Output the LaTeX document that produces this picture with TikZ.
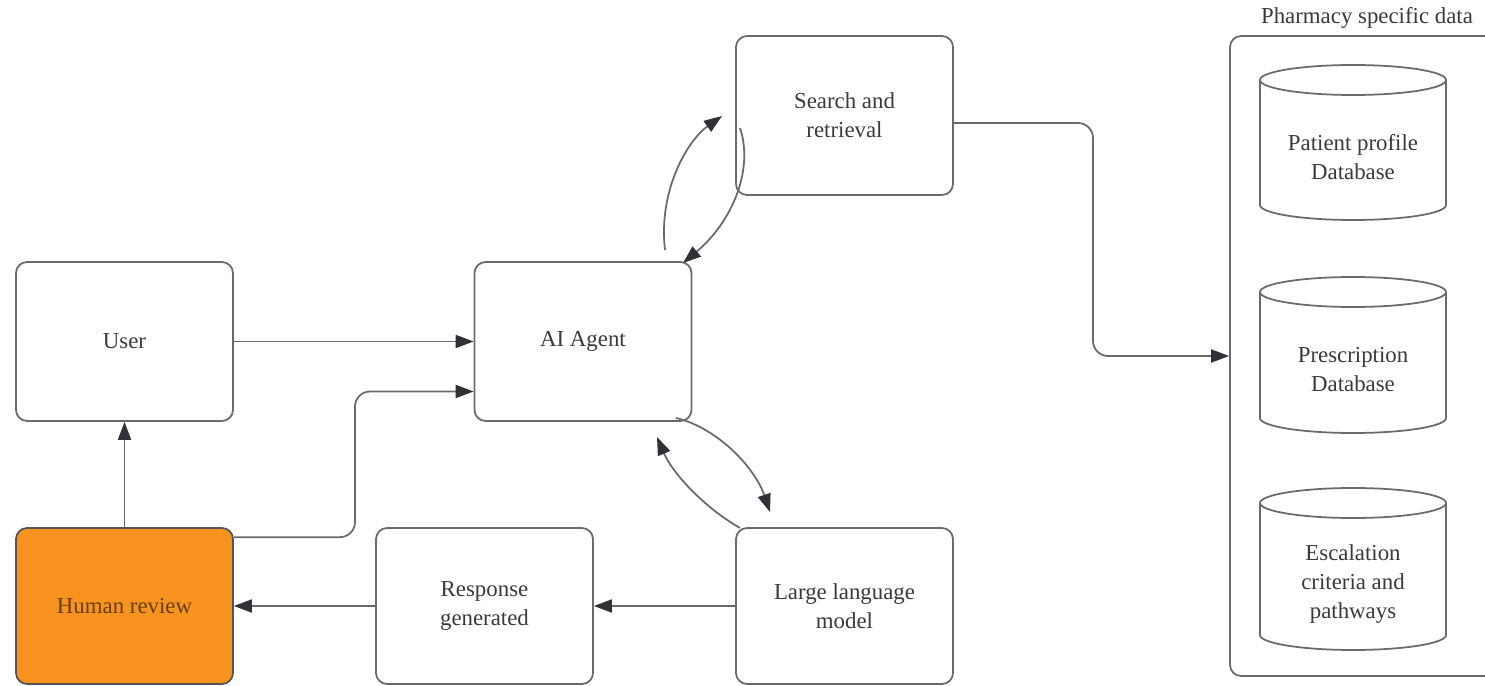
\documentclass[tikz,border=0pt]{standalone}
\usepackage{fontspec}
\setmainfont{Liberation Serif}
\usetikzlibrary{arrows.meta}
\definecolor{edge}{HTML}{6A6A6A}
\definecolor{ink}{HTML}{3A3A3A}
\definecolor{tip}{HTML}{2F3136}
\definecolor{hrfill}{HTML}{F7931E}
\definecolor{hrtext}{HTML}{6B3F12}
\tikzset{
  box/.style={draw=edge, line width=1pt, rounded corners=0.22cm, fill=white,
    minimum width=4.34cm, minimum height=3.18cm, align=center, text=ink,
    font=\fontsize{13}{16.5}\selectfont},
  arr/.style={draw=edge, line width=1pt, -{Triangle[length=0.36cm,width=0.26cm,color=tip]}},
  elbow/.style={arr, rounded corners=0.3cm},
  dblabel/.style={align=center, text=ink, font=\fontsize{13}{16.5}\selectfont},
  cyl/.style={draw=edge, line width=1pt},
}
\begin{document}
\begin{tikzpicture}[x=0.02cm,y=-0.02cm]
\useasboundingbox (0,0) rectangle (1485,686);

% process boxes
\node[box] (user) at (124.5,341.5) {User};
\node[box] (ai) at (583,341.5) {AI Agent};
\node[box] (sr) at (844.5,115.5) {Search and\\retrieval};
\node[box, minimum height=3.12cm] (llm) at (844.5,606) {Large language\\model};
\node[box, minimum height=3.12cm] (resp) at (484.5,606) {Response\\generated};
\node[box, minimum height=3.12cm, fill=hrfill, draw=edge!80!black, text=hrtext] (hr) at (124.5,606) {Human review};

% data container
\node[draw=edge, line width=1pt, rounded corners=0.22cm, minimum width=5.4cm, minimum height=12.8cm] (pharm) at (1365,356) {};
\node[text=ink, font=\fontsize{13}{16}\selectfont] (pharmlbl) at (1367,18) {Pharmacy specific data};

% databases
\foreach \nm/\top/\bot/\txt in {db1/80/205/{Patient profile\\Database}, db2/292/418/{Prescription\\Database}, db3/503/635/{Escalation\\criteria and\\pathways}}{
  \draw[cyl] (1260,\top) -- (1260,\bot) arc[start angle=180, end angle=360, x radius=93, y radius=-15] -- (1446,\top);
  \draw[cyl] (1353,\top) ellipse[x radius=93, y radius=15];
  \node[dblabel] (\nm) at (1353,{(\top+\bot)/2+15}) {\txt};
}

% straight connectors
\draw[arr] (user.east) -- (ai.west);
\draw[arr] (hr.north) -- (user.south);
\draw[arr] (llm.west) -- (resp.east);
\draw[arr] (resp.west) -- (hr.east);

% elbow connectors
\draw[elbow] ([yshift=-0.2cm]hr.north east) -| (355,465) |- ([yshift=-1cm]ai.west);
\draw[elbow] ([yshift=-0.15cm]sr.east) -| (1093,240) |- (pharm.west);

% curved exchanges
\coordinate (a1) at (665,250);
\coordinate (s1) at (722,116);
\coordinate (s2) at (740,128);
\coordinate (a2) at (683,263);
\coordinate (a3) at (676,418);
\coordinate (l1) at (770,512);
\coordinate (l2) at (740,528);
\coordinate (a4) at (657,437);
\draw[arr] (a1) .. controls (658,190) and (688,140) .. (s1);
\draw[arr] (s2) .. controls (754,170) and (732,222) .. (a2);
\draw[arr] (a3) .. controls (718,428) and (755,468) .. (l1);
\draw[arr] (l2) .. controls (702,506) and (672,472) .. (a4);
\end{tikzpicture}
\end{document}
